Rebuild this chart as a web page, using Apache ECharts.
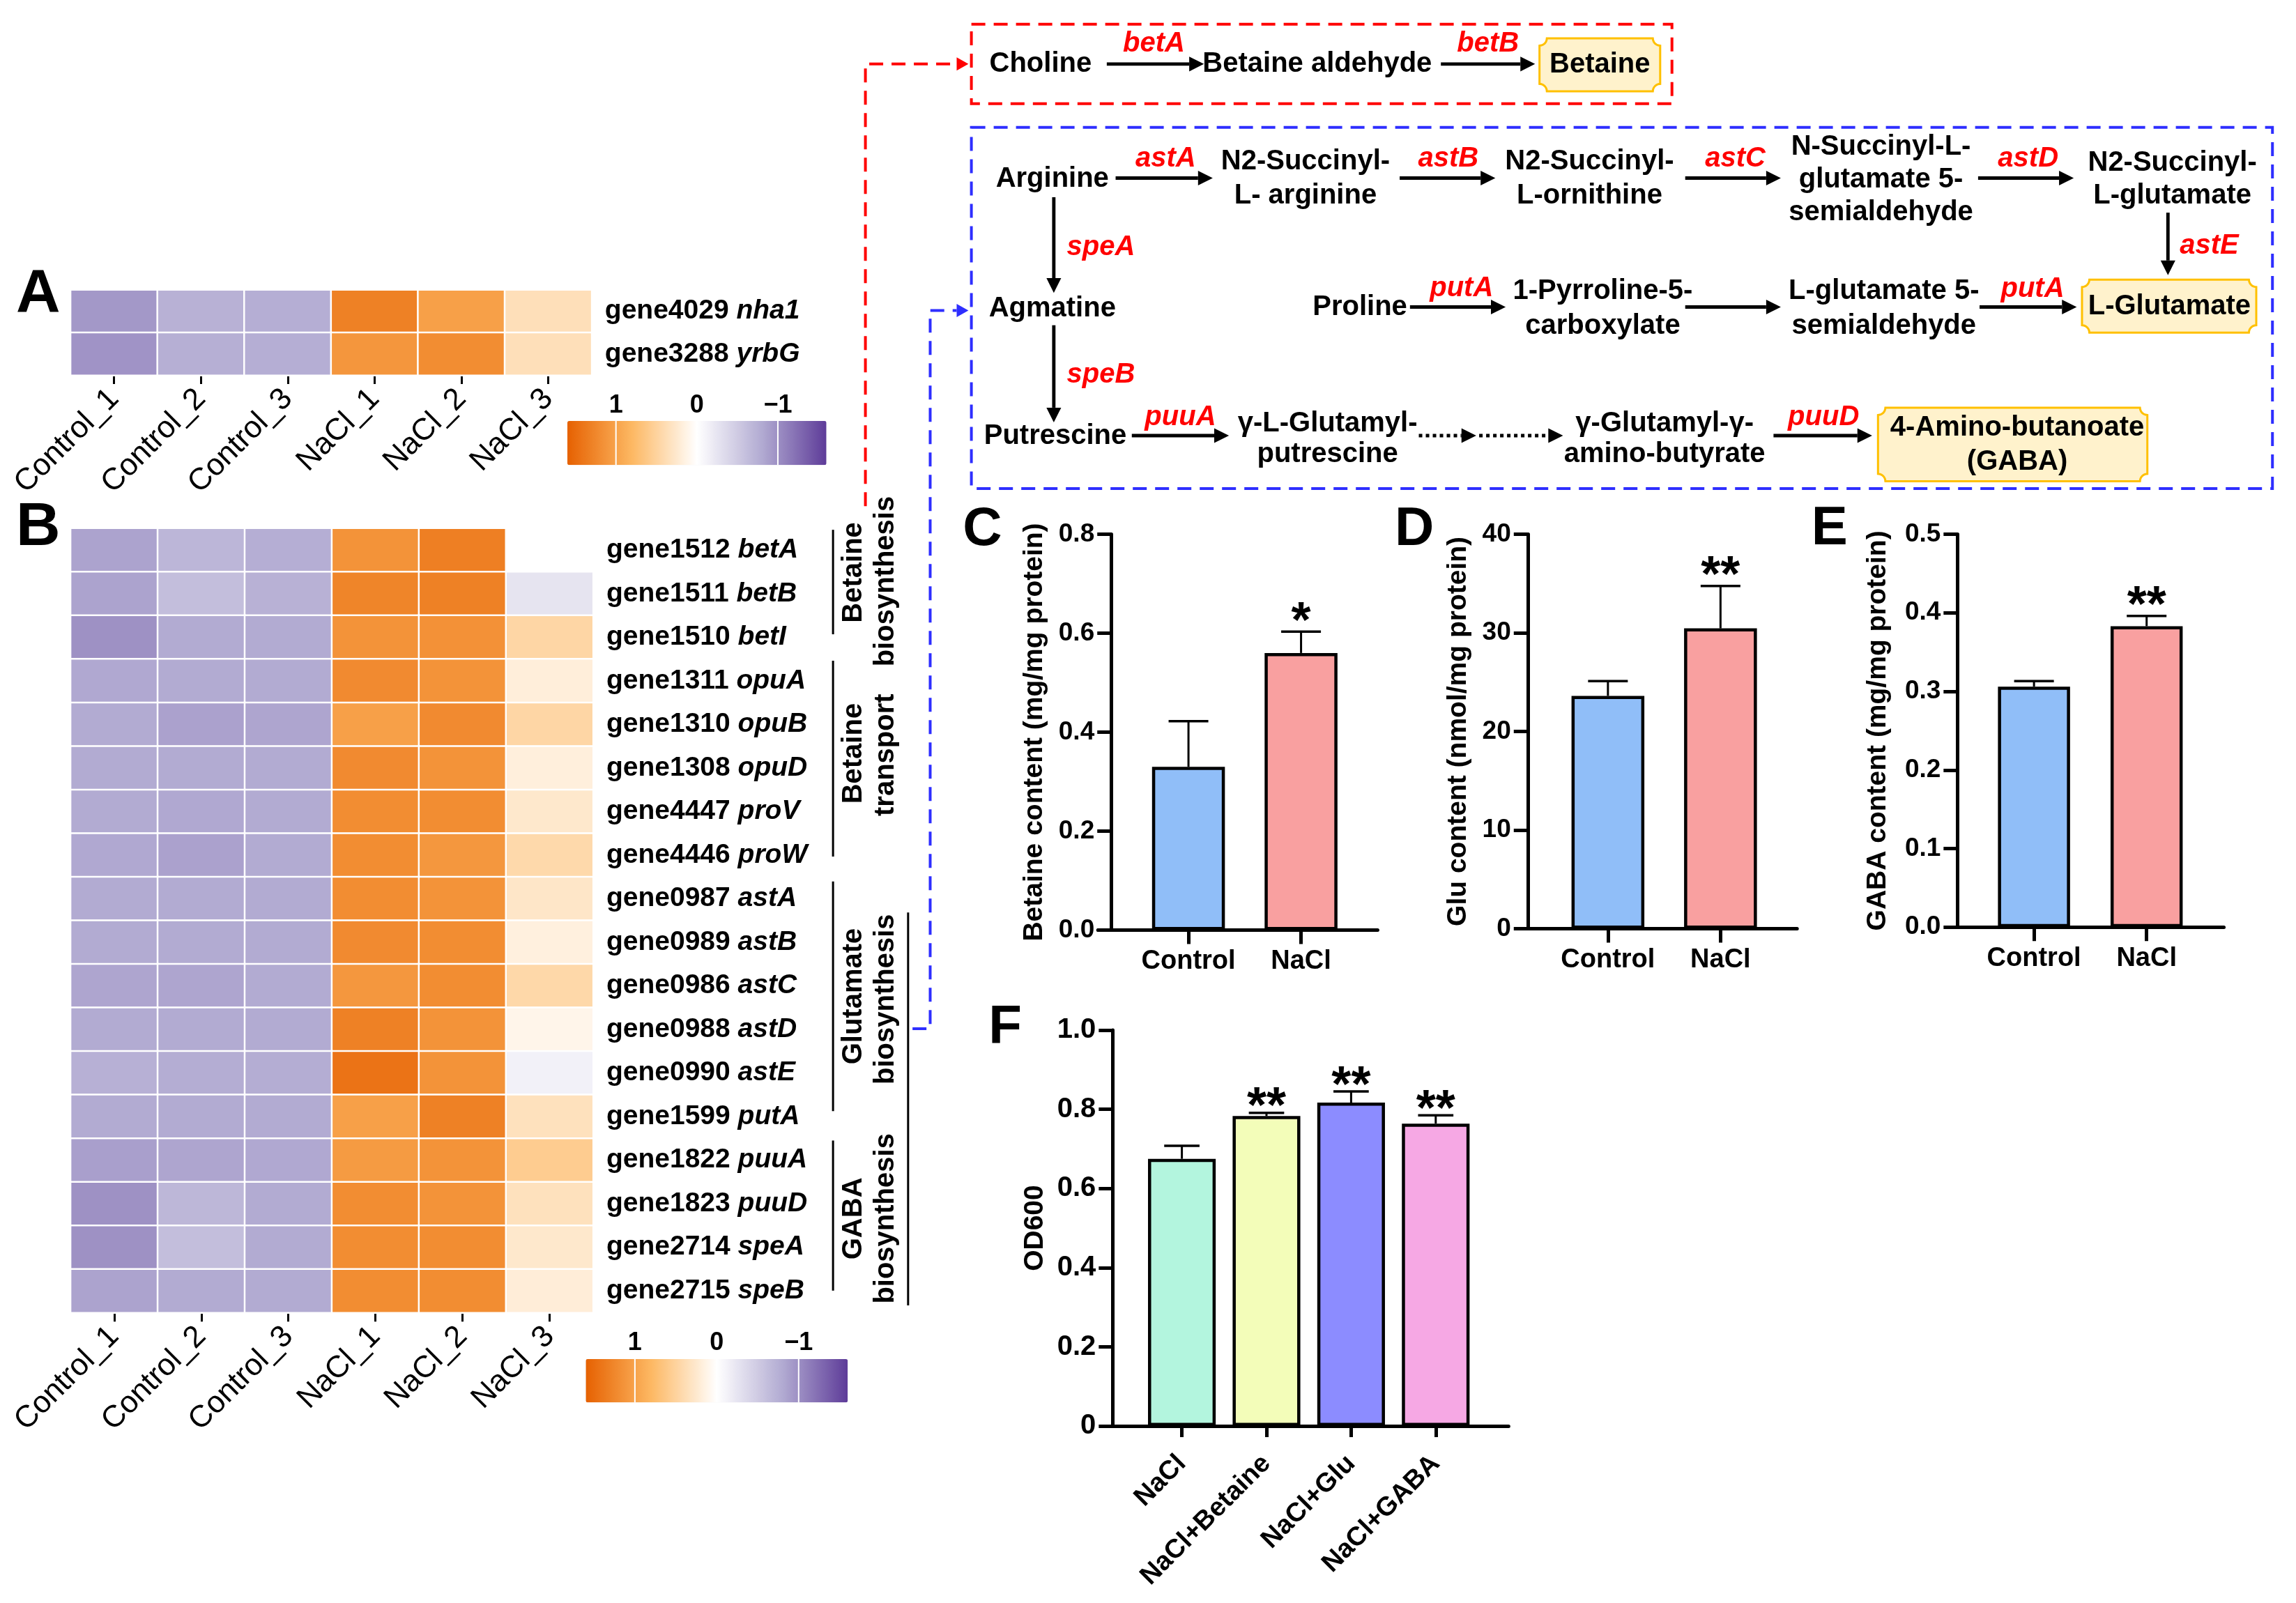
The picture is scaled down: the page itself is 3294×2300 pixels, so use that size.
<!DOCTYPE html>
<html><head><meta charset="utf-8">
<script src="https://cdn.jsdelivr.net/npm/echarts@6/dist/echarts.min.js"></script>
<style>html,body{margin:0;padding:0;background:#fff}#c{width:3294px;height:2300px}</style>
</head><body><div id="c"></div>
<script>
// ---------------- DATA ----------------
const samples = ['Control_1','Control_2','Control_3','NaCl_1','NaCl_2','NaCl_3'];
const genesA = ['gene4029 nha1','gene3288 yrbG'];
const zA = [
  [-0.94,-0.74,-0.77,1.31,1.02,0.36],
  [-0.97,-0.76,-0.77,1.11,1.20,0.36]
];
const genesB = ['gene1512 betA','gene1511 betB','gene1510 betI','gene1311 opuA','gene1310 opuB','gene1308 opuD',
  'gene4447 proV','gene4446 proW','gene0987 astA','gene0989 astB','gene0986 astC','gene0988 astD',
  'gene0990 astE','gene1599 putA','gene1822 puuA','gene1823 puuD','gene2714 speA','gene2715 speB'];
const zB = [
  [-0.86,-0.70,-0.77,1.14,1.32,0.00],
  [-0.86,-0.62,-0.74,1.27,1.31,-0.26],
  [-0.99,-0.80,-0.80,1.14,1.16,0.46],
  [-0.82,-0.80,-0.80,1.22,1.14,0.19],
  [-0.80,-0.87,-0.84,1.02,1.22,0.46],
  [-0.80,-0.80,-0.80,1.22,1.14,0.18],
  [-0.80,-0.82,-0.80,1.20,1.20,0.26],
  [-0.82,-0.87,-0.80,1.20,1.10,0.43],
  [-0.80,-0.80,-0.80,1.20,1.14,0.28],
  [-0.80,-0.80,-0.80,1.22,1.20,0.17],
  [-0.84,-0.84,-0.80,1.10,1.20,0.44],
  [-0.80,-0.80,-0.80,1.31,1.14,0.11],
  [-0.75,-0.78,-0.78,1.43,1.14,-0.13],
  [-0.80,-0.80,-0.80,1.02,1.31,0.34],
  [-0.89,-0.84,-0.82,1.07,1.14,0.57],
  [-0.99,-0.69,-0.80,1.20,1.14,0.34],
  [-0.99,-0.62,-0.80,1.20,1.20,0.26],
  [-0.86,-0.80,-0.80,1.20,1.20,0.20]
];
const colorbarTicks = [1, 0, -1];
const colorbarRange = [-1.6, 1.6];

const groupsCDE = ['Control','NaCl'];
const betaineMean = [0.330, 0.560];
const betaineErr  = [0.092, 0.043];
const betaineSig  = ['', '*'];
const gluMean = [23.6, 30.45];
const gluErr  = [1.5, 4.3];
const gluSig  = ['', '**'];
const gabaMean = [0.306, 0.383];
const gabaErr  = [0.007, 0.013];
const gabaSig  = ['', '**'];
const odGroups = ['NaCl','NaCl+Betaine','NaCl+Glu','NaCl+GABA'];
const odMean = [0.675, 0.783, 0.817, 0.764];
const odErr  = [0.033, 0.008, 0.028, 0.021];
const odSig  = ['', '**', '**', '**'];

// ---------------- STYLE / LAYOUT ----------------
const K = 3294/1560;
function k(v){ return v*K; }
const FONT = '"Liberation Sans", Arial, Helvetica, sans-serif';
const PUOR = ['#5e3c99','#b2abd2','#ffffff','#fdb863','#e66101'];
const cdeColors = ['#90BEF8','#F9A0A0'];
const odColors = ['#B3F5DE','#F3FDB9','#8C8CFF','#F6A8E4'];
const RED = '#FF0000', BLUE = '#2E2EFF';

// ---------------- GRAPHICS (diagram, annotations) ----------------
const G = [];
function T(x,y,s,o){ o=o||{}; G.push({type:'text', x:k(x), y:k(y), rotation:o.rot||0, z:50, silent:true,
  style:{text:s, align:o.align||'center', verticalAlign:'middle', fontSize:o.size||40, fontWeight:o.weight||'bold',
  fontStyle:o.italic?'italic':'normal', fontFamily:FONT, fill:o.color||'#000'}}); }
function EZ(x,y,s){ T(x,y,s,{italic:true,color:RED}); }
function LN(x1,y1,x2,y2,o){ o=o||{}; G.push({type:'line', z:40, silent:true, shape:{x1:k(x1),y1:k(y1),x2:k(x2),y2:k(y2)},
  style:{stroke:o.color||'#000', lineWidth:o.w||3, lineDash:o.dash||null, lineCap:o.cap||'butt'}}); }
function HEAD(x2,y2,ux,uy,color,hl,hw){ const bx=x2-ux*hl, by=y2-uy*hl;
  G.push({type:'polygon', z:41, silent:true, shape:{points:[[k(x2),k(y2)],[k(bx-uy*hw),k(by+ux*hw)],[k(bx+uy*hw),k(by-ux*hw)]]}, style:{fill:color}}); return [bx,by]; }
function AR(x1,y1,x2,y2,o){ o=o||{}; const dx=x2-x1, dy=y2-y1, L=Math.hypot(dx,dy), ux=dx/L, uy=dy/L;
  const b = HEAD(x2,y2,ux,uy,o.color||'#000',o.hl||10,o.hw||5);
  LN(x1,y1,b[0],b[1],{color:o.color||'#000', w:o.w||k(2.3), dash:o.dash}); }
function PL(pts,color,dash){ const n=pts.length; const a=pts[n-2], b=pts[n-1];
  const dx=b[0]-a[0], dy=b[1]-a[1], L=Math.hypot(dx,dy), ux=dx/L, uy=dy/L;
  HEAD(b[0]+ux*8,b[1]+uy*8,ux,uy,color,8,4.5);
  G.push({type:'polyline', z:40, silent:true, shape:{points:pts.map(p=>[k(p[0]),k(p[1])])}, style:{stroke:color, lineWidth:4, lineDash:dash, fill:null}}); }
function DBOX(x1,y1,x2,y2,color){ G.push({type:'rect', z:30, silent:true, shape:{x:k(x1),y:k(y1),width:k(x2-x1),height:k(y2-y1)},
  style:{fill:null, stroke:color, lineWidth:4, lineDash:[20,12]}}); }
function BOX(x1,y1,x2,y2){ const r=5, pts=[]; const N=6;
  function arc(cx,cy,a0,a1){ for(let i=0;i<=N;i++){ const t=a0+(a1-a0)*i/N; pts.push([k(cx+r*Math.cos(t)), k(cy+r*Math.sin(t))]); } }
  arc(x1,y1,0,Math.PI/2);
  arc(x1,y2,-Math.PI/2,0);
  arc(x2,y2,Math.PI,3*Math.PI/2);
  arc(x2,y1,Math.PI/2,Math.PI);
  G.push({type:'polygon', z:35, silent:true, shape:{points:pts}, style:{fill:'#FFF2CC', stroke:'#FFC000', lineWidth:3}}); }

// panel letters
T(26,200,'A',{size:88}); T(26,359,'B',{size:88});
T(667.5,360,'C',{size:78}); T(961,360,'D',{size:78}); T(1243,359.5,'E',{size:78}); T(683,699,'F',{size:78});

// group brackets for heatmap B
LN(566,360,566,431,{w:3}); LN(566,449,566,582,{w:3}); LN(566,599,566,755,{w:3}); LN(566,775,566,877,{w:3}); LN(617,620,617,887,{w:3});
const R90 = Math.PI/2;
T(580,389,'Betaine',{rot:R90}); T(602,395,'biosynthesis',{rot:R90});
T(580,512,'Betaine',{rot:R90}); T(602,513,'transport',{rot:R90});
T(580,677,'Glutamate',{rot:R90}); T(602,679,'biosynthesis',{rot:R90});
T(580,828,'GABA',{rot:R90}); T(602,828,'biosynthesis',{rot:R90});

// connectors
PL([[588,344],[588,43.5],[650,43.5]], RED, [20,12]);
PL([[620,699],[632,699],[632,211],[650,211]], BLUE, [20,12]);

// pathway boxes
DBOX(660,16.5,1136,70.5,RED);
DBOX(660,86.5,1544,332,BLUE);

// Row 0
T(707,43.5,'Choline'); AR(752,43.5,818,43.5); EZ(784,30,'betA');
T(895,43.5,'Betaine aldehyde'); AR(979,43.5,1043,43.5); EZ(1011,30,'betB');
BOX(1046,26,1128,62); T(1087,44,'Betaine');
// Row 1
T(715,121.5,'Arginine'); AR(758,121,824,121); EZ(792,108,'astA');
T(887,110,'N2-Succinyl-'); T(887,133,'L- arginine');
AR(951,121,1016,121); EZ(984,108,'astB');
T(1080,110,'N2-Succinyl-'); T(1080,133,'L-ornithine');
AR(1145,121,1210,121); EZ(1179,108,'astC');
T(1278,100,'N-Succinyl-L-'); T(1278,122,'glutamate 5-'); T(1278,144.5,'semialdehyde');
AR(1344,121,1409,121); EZ(1378,108,'astD');
T(1476,110.8,'N2-Succinyl-'); T(1476,133,'L-glutamate');
AR(1473,144.5,1473,187); EZ(1501,167,'astE');
// Row 2
AR(716,134,716,199); EZ(748,168,'speA');
T(715,210,'Agmatine');
T(924,209,'Proline'); AR(958,208.6,1023,208.6); EZ(993,196,'putA');
T(1089,198,'1-Pyrroline-5-'); T(1089,221.6,'carboxylate');
AR(1145,208.6,1210,208.6);
T(1280,198,'L-glutamate 5-'); T(1280,221.6,'semialdehyde');
AR(1345,208.6,1411,208.6); EZ(1381,196.7,'putA');
BOX(1414.6,190,1533,226); T(1474,208.6,'L-Glutamate');
// Row 3
AR(716,221,716,287); EZ(748,255,'speB');
T(717,296.6,'Putrescine'); AR(769,296,835,296); EZ(802,283.6,'puuA');
T(902,288,'γ-L-Glutamyl-'); T(902,308.6,'putrescine');
AR(964,296,1003,296,{dash:[5,5],w:5}); AR(1005,296,1062,296,{dash:[5,5],w:5});
T(1131,288,'γ-Glutamyl-γ-'); T(1131,308.6,'amino-butyrate');
AR(1205,296,1272,296); EZ(1239,283.6,'puuD');
BOX(1276,277,1459,327); T(1370.6,291,'4-Amino-butanoate'); T(1370.6,314,'(GABA)');

// colorbar tick labels
const CBA = {left:385.5, len:176, top:286, h:30, ly:275.5};
const CBB = {left:398, len:178, top:923.5, h:29.5, ly:912.6};
function cbLabels(c){
  colorbarTicks.forEach(v=>{ const x = c.left + (colorbarRange[1]-v)/(colorbarRange[1]-colorbarRange[0])*c.len;
    T(x,c.ly,v<0?('\u2212'+Math.abs(v)):String(v),{weight:'bold',size:36});
    if(v!==0) LN(x,c.top,x,c.top+c.h,{color:'#fff',w:2}); });
}
cbLabels(CBA); cbLabels(CBB);

// ---------------- SERIES HELPERS ----------------
function heatData(z){ const d=[]; z.forEach((row,r)=>row.forEach((v,c)=>d.push([c,r,v]))); return d; }
function geneFmt(v){ const p=v.split(' '); return '{g|'+p[0]+' }{i|'+p[1]+'}'; }
const geneRich = { g:{fontSize:39,fontWeight:'bold',fontFamily:FONT,color:'#000'}, i:{fontSize:39,fontWeight:'bold',fontStyle:'italic',fontFamily:FONT,color:'#000'} };

function heatX(gi){ return {type:'category', gridIndex:gi, data:samples, axisLine:{show:false},
  axisTick:{show:true, alignWithLabel:true, length:k(6), lineStyle:{color:'#000',width:3}},
  axisLabel:{rotate:45, fontSize:44, fontFamily:FONT, color:'#000', margin:27}, splitLine:{show:false}}; }
function heatY(gi,genes){ return {type:'category', gridIndex:gi, data:genes, inverse:true, position:'right', axisLine:{show:false}, axisTick:{show:false},
  axisLabel:{margin:k(9), formatter:geneFmt, rich:geneRich}, splitLine:{show:false}}; }

function barX(gi,groups,min,max,rot,tl){ const cv = groups.map((g,i)=>i);
  return {type:'value', gridIndex:gi, min:min, max:max, splitLine:{show:false},
    axisLine:{show:true, onZero:false, lineStyle:{color:'#000',width:5}},
    axisTick:{show:true, customValues:cv, length:tl||20, lineStyle:{color:'#000',width:5}},
    axisLabel:{customValues:cv, formatter:v=>groups[Math.round(v)], fontSize:38, fontWeight:'bold', fontFamily:FONT, color:'#000',
      margin: rot?48:26, rotate: rot||0}}; }
function barY(gi,min,max,interval,fmt,name,gap,offset,fs){ return {type:'value', gridIndex:gi, min:min, max:max, interval:interval, offset:offset,
  splitLine:{show:false}, axisLine:{show:true, onZero:false, lineStyle:{color:'#000',width:5}},
  axisTick:{show:true, length:20, lineStyle:{color:'#000',width:5}},
  axisLabel:{formatter:fmt, fontSize:fs||37, fontWeight:'bold', fontFamily:FONT, color:'#000', margin:24},
  name:name, nameLocation:'middle', nameRotate:90, nameGap:gap,
  nameTextStyle:{fontSize:39, fontWeight:'bold', fontFamily:FONT, color:'#000'}}; }
function barS(gi,means,colors,bw){ return {type:'bar', xAxisIndex:gi, yAxisIndex:gi, barWidth:k(bw), silent:true, z:2,
  itemStyle:{borderColor:'#000', borderWidth:4.5},
  data: means.map((m,i)=>({value:[i,m], itemStyle:{color:colors[i]}}))}; }
function errS(gi,means,errs,sig,capHalf,starGap){ return {type:'custom', xAxisIndex:gi, yAxisIndex:gi, silent:true, z:5,
  data: means.map((m,i)=>[i,m,errs[i]]),
  renderItem:function(params,api){ const x=api.value(0), m=api.value(1), e=api.value(2);
    const p0=api.coord([x,m]), p1=api.coord([x,m+e]); const ch=k(capHalf);
    const ch2=[{type:'line', shape:{x1:p0[0],y1:p0[1],x2:p1[0],y2:p1[1]}, style:{stroke:'#000',lineWidth:3}},
      {type:'line', shape:{x1:p1[0]-ch,y1:p1[1],x2:p1[0]+ch,y2:p1[1]}, style:{stroke:'#000',lineWidth:3.5}}];
    const s=sig[params.dataIndex];
    if(s) ch2.push({type:'text', x:p1[0], y:p1[1]-k(starGap)+17, style:{text:s, align:'center', verticalAlign:'middle', fontSize:72, fontWeight:'bold', fontFamily:FONT, fill:'#000'}});
    return {type:'group', children:ch2}; }}; }

const f1 = v=>v.toFixed(1);
const option = {
  animation:false, backgroundColor:'#fff', textStyle:{fontFamily:FONT},
  grid:[
    {left:k(48), top:k(197), width:k(354), height:k(58)},
    {left:k(48), top:k(359), width:k(355), height:k(533)},
    {left:k(746), top:k(363), width:k(190), height:k(269)},
    {left:k(1031), top:k(363), width:k(190), height:k(268)},
    {left:k(1322), top:k(363), width:k(189), height:k(267)},
    {left:k(748.5), top:k(700), width:k(276.5), height:k(269)}
  ],
  xAxis:[ heatX(0), heatX(1),
    barX(2,groupsCDE,-0.804,1.68), barX(3,groupsCDE,-0.804,1.68), barX(4,groupsCDE,-0.784,1.686),
    barX(5,odGroups,-0.948,3.861,45,16) ],
  yAxis:[ heatY(0,genesA), heatY(1,genesB),
    barY(2,0,0.8,0.2,f1,'Betaine content (mg/mg protein)',k(53)-21,-k(9)),
    barY(3,0,40,10,v=>String(v),'Glu content (nmol/mg protein)',k(48)-21,-k(7)),
    barY(4,0,0.5,0.1,f1,'GABA content (mg/mg protein)',k(54.6)-21,-k(8)),
    barY(5,0,1,0.2,v=>v===0?'0':v.toFixed(1),'OD600',k(53.4)-21,-k(7.5),40) ],
  visualMap:[
    {type:'continuous', seriesIndex:0, min:colorbarRange[0], max:colorbarRange[1], orient:'horizontal', inverse:true,
     left:k(CBA.left), top:k(CBA.top), itemWidth:k(CBA.h), itemHeight:k(CBA.len), padding:0, calculable:false, hoverLink:false,
     inRange:{color:PUOR}},
    {type:'continuous', seriesIndex:1, min:colorbarRange[0], max:colorbarRange[1], orient:'horizontal', inverse:true,
     left:k(CBB.left), top:k(CBB.top), itemWidth:k(CBB.h), itemHeight:k(CBB.len), padding:0, calculable:false, hoverLink:false,
     inRange:{color:PUOR}}
  ],
  series:[
    {type:'heatmap', xAxisIndex:0, yAxisIndex:0, data:heatData(zA), silent:true, itemStyle:{borderColor:'#fff',borderWidth:2.5}},
    {type:'heatmap', xAxisIndex:1, yAxisIndex:1, data:heatData(zB), silent:true, itemStyle:{borderColor:'#fff',borderWidth:2.5}},
    barS(2,betaineMean,cdeColors,49.5), errS(2,betaineMean,betaineErr,betaineSig,13.5,14),
    barS(3,gluMean,cdeColors,49.5), errS(3,gluMean,gluErr,gluSig,13.5,14),
    barS(4,gabaMean,cdeColors,49), errS(4,gabaMean,gabaErr,gabaSig,13.5,14),
    barS(5,odMean,odColors,46), errS(5,odMean,odErr,odSig,12,11)
  ],
  graphic:{elements:G}
};
const chart = echarts.init(document.getElementById('c'), null, {renderer:'canvas', width:3294, height:2300});
chart.setOption(option);
</script>
</body></html>
